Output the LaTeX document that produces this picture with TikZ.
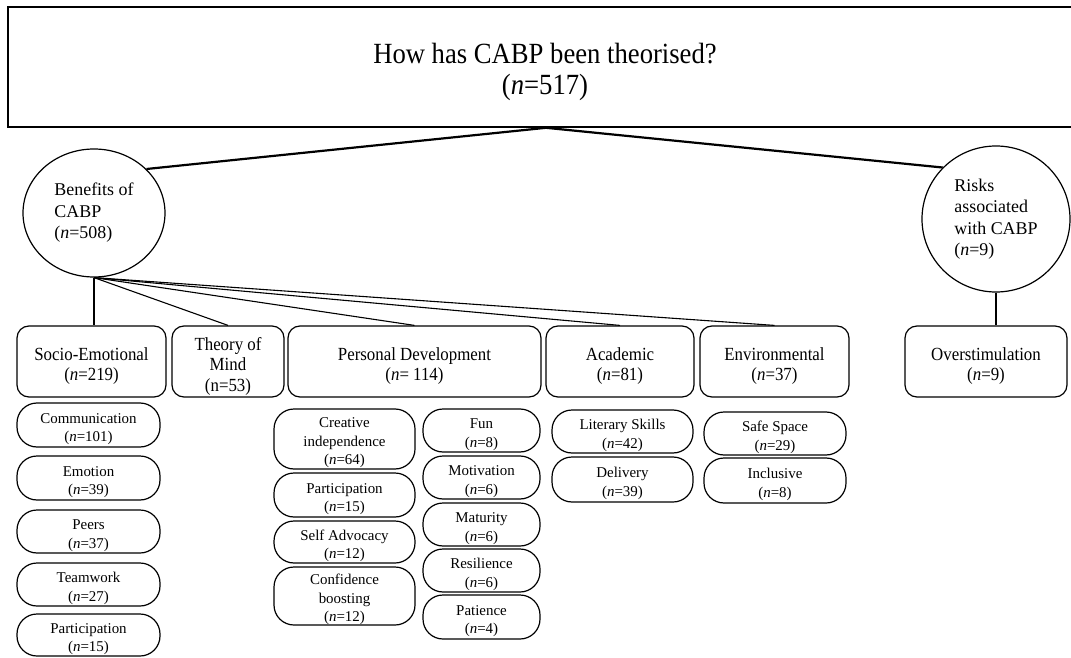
\documentclass[tikz,border=0pt]{standalone}
\usepackage{fontspec}
\setmainfont{Liberation Serif}
\newfontfamily\narrowserif[FakeStretch=0.91]{Liberation Serif}
\usetikzlibrary{shapes.geometric}

% type sizes for the four levels of the tree
\newcommand\headfont{\narrowserif\fontsize{29.4}{32}\selectfont}
\newcommand\themefont{\fontsize{18}{21.5}\selectfont}
\newcommand\catfont{\narrowserif\fontsize{18.6}{20.5}\selectfont}
\newcommand\pillfont{\fontsize{15}{18.5}\selectfont}
\newcommand\nn{\textit{n}}
% tall invisible strut that sets a label a little low in its box
\newcommand\lowset{\rule{0pt}{1.2em}}

\tikzset{
  bigline/.style={line width=2.2bp},
  link/.style={line width=1.1bp},
  theme/.style={ellipse, draw, line width=1.2bp, inner sep=0pt, align=left, font=\themefont},
  cat/.style={draw, line width=1.2bp, rounded corners=12bp, inner sep=0pt,
              align=center, font=\catfont, minimum height=71bp},
  pill/.style={draw, line width=1.2bp, rounded corners=20bp, inner sep=0pt,
               align=center, font=\pillfont},
}

\begin{document}
\begin{tikzpicture}[x=1bp, y=-1bp]
\useasboundingbox (0,0) rectangle (1071,658);
\clip (0,0) rectangle (1071,658);

% question box across the top
\node[draw, line width=1.6bp, minimum width=1076bp, minimum height=120bp, inner sep=0pt] (title) at (546,67) {};
\node[font=\headfont, align=center, inner sep=0pt] (titletext) at (545,72)
  {How has CABP been theorised?\\(\nn=517)};

% the two themes
\node[theme, minimum width=142bp, minimum height=128bp] (ben) at (94,213)
  {Benefits of\\CABP\\(\nn=508)};
\node[theme, minimum width=148bp, minimum height=146bp] (risk) at (996,219)
  {Risks\\associated\\with CABP\\(\nn=9)};

% categories
\node[cat, minimum width=149bp] (socio) at (91.5,361.5) {\lowset Socio-Emotional\\(\nn=219)};
\node[cat, minimum width=112bp] (tom)   at (228,361.5)  {\lowset Theory of\\Mind\\(n=53)};
\node[cat, minimum width=253bp] (pd)    at (414.5,361.5) {\lowset Personal Development\\(\nn= 114)};
\node[cat, minimum width=148bp] (acad)  at (620,361.5)  {\lowset Academic\\(\nn=81)};
\node[cat, minimum width=149bp] (env)   at (774.5,361.5) {\lowset Environmental\\(\nn=37)};
\node[cat, minimum width=162bp] (over)  at (986,361.5)  {\lowset Overstimulation\\(\nn=9)};

% connectors
\draw[bigline] (title.south) -- (ben.40);
\draw[bigline] (title.south) -- (risk.136);
\draw[link] (ben.south) -- (ben.south |- socio.north);
\draw[link] (ben.south) -- (tom.north);
\draw[link] (ben.south) -- (pd.north);
\draw[link] (ben.south) -- (acad.north);
\draw[link] (ben.south) -- (env.north);
\draw[link] (risk.south) -- (risk.south |- over.north);

% socio-emotional sub-themes
\node[pill, minimum width=143bp, minimum height=44bp] (comm)  at (88.5,425)   {\lowset Communication\\(\nn=101)};
\node[pill, minimum width=143bp, minimum height=44bp] (emo)   at (88.5,478)   {\lowset Emotion\\(\nn=39)};
\node[pill, minimum width=143bp, minimum height=43bp] (peers) at (88.5,531.5) {\lowset Peers\\(\nn=37)};
\node[pill, minimum width=143bp, minimum height=43bp] (team)  at (88.5,584.5) {\lowset Teamwork\\(\nn=27)};
\node[pill, minimum width=143bp, minimum height=42bp] (partA) at (88.5,635)   {\lowset Participation\\(\nn=15)};

% personal development sub-themes
\node[pill, minimum width=141bp, minimum height=60bp] (creat) at (344.5,439) {\lowset Creative\\independence\\(\nn=64)};
\node[pill, minimum width=141bp, minimum height=44bp] (partB) at (344.5,495) {\lowset Participation\\(\nn=15)};
\node[pill, minimum width=141bp, minimum height=42bp] (selfa) at (344.5,542) {\lowset Self Advocacy\\(\nn=12)};
\node[pill, minimum width=141bp, minimum height=58bp] (conf)  at (344.5,596) {\lowset Confidence\\boosting\\(\nn=12)};
\node[pill, minimum width=117bp, minimum height=43bp] (fun)   at (481.5,430.5) {\lowset Fun\\(\nn=8)};
\node[pill, minimum width=117bp, minimum height=43bp] (motiv) at (481.5,477.5) {\lowset Motivation\\(\nn=6)};
\node[pill, minimum width=117bp, minimum height=43bp] (matur) at (481.5,524.5) {\lowset Maturity\\(\nn=6)};
\node[pill, minimum width=117bp, minimum height=43bp] (resil) at (481.5,570.5) {\lowset Resilience\\(\nn=6)};
\node[pill, minimum width=117bp, minimum height=44bp] (pat)   at (481.5,617)   {\lowset Patience\\(\nn=4)};

% academic sub-themes
\node[pill, minimum width=141bp, minimum height=43bp] (lit)   at (622.5,431.5) {\lowset Literary Skills\\(\nn=42)};
\node[pill, minimum width=141bp, minimum height=45bp] (deliv) at (622.5,479.5) {\lowset Delivery\\(\nn=39)};

% environmental sub-themes
\node[pill, minimum width=142bp, minimum height=43bp] (safe)  at (775,433.5) {\lowset Safe Space\\(\nn=29)};
\node[pill, minimum width=142bp, minimum height=45bp] (incl)  at (775,480.5) {\lowset Inclusive\\(\nn=8)};
\end{tikzpicture}
\end{document}
